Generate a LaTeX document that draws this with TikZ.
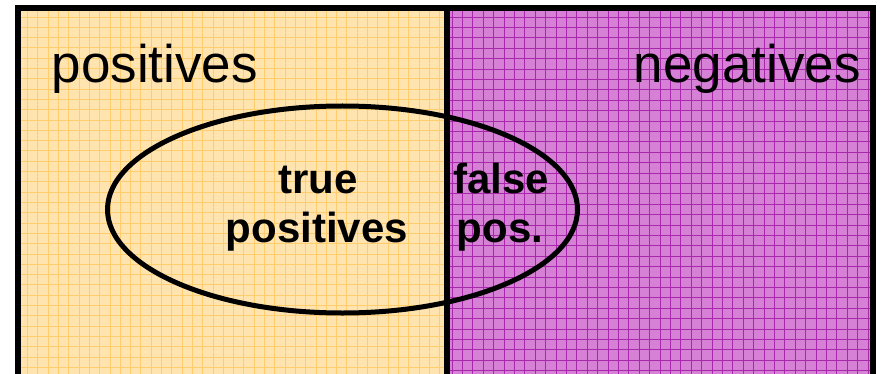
\documentclass[tikz,border=0pt]{standalone}
\usepackage{fontspec}
\setmainfont{Liberation Sans}
\definecolor{posfill}{RGB}{255,228,176}
\definecolor{posgrid}{RGB}{255,204,110}
\definecolor{negfill}{RGB}{214,128,214}
\definecolor{neggrid}{RGB}{168,40,172}
\tikzset{
  biglabel/.style={inner sep=0pt, font=\fontsize{53}{60}\selectfont},
  boldlabel/.style={inner sep=0pt, anchor=base, font=\fontsize{42}{48}\selectfont\bfseries},
  frameline/.style={line width=6pt, draw=black},
  gridline/.style={line width=0.8pt}
}
\begin{document}
\begin{tikzpicture}[x=1pt,y=-1pt]
\useasboundingbox (0,0) rectangle (882,374);
\begin{scope}
\clip (0,0) rectangle (882,374);
% fills
\fill[posfill] (18,8) rectangle (446.5,390);
\fill[negfill] (446.5,8) rectangle (873,390);
% grids
\begin{scope}
\clip (18,8) rectangle (446.5,390);
\foreach \i in {0,...,43} {
  \draw[gridline, posgrid] ({27.5+10.3*\i},0) -- ({27.5+10.3*\i},390);
}
\foreach \j in {0,...,38} {
  \draw[gridline, posgrid] (0,{17+10.3*\j}) -- (450,{17+10.3*\j});
}
\end{scope}
\begin{scope}
\clip (446.5,8) rectangle (873,390);
\foreach \i in {0,...,43} {
  \draw[gridline, neggrid] ({452+10.4*\i},0) -- ({452+10.4*\i},390);
}
\foreach \j in {0,...,38} {
  \draw[gridline, neggrid] (440,{17+10.4*\j}) -- (880,{17+10.4*\j});
}
\end{scope}
% frame
\draw[frameline] (18,400) -- (18,8) -- (873,8) -- (873,400);
\draw[frameline] (446.5,8) -- (446.5,400);
\end{scope}
% labels
\node[biglabel, anchor=base west] (pos) at (51.5,82.7) {positives};
\node[biglabel, anchor=base east] (neg) at (861,82.7) {negatives};
% ellipse
\draw[line width=5pt] (342.5,209.5) ellipse [x radius=235pt, y radius=103.5pt];
\node[boldlabel] (tp1) at (318,193) {true};
\node[boldlabel] (tp2) at (317,242) {positives};
\node[boldlabel] (fp1) at (501,193) {false};
\node[boldlabel] (fp2) at (500,242) {pos.};
\end{tikzpicture}
\end{document}
